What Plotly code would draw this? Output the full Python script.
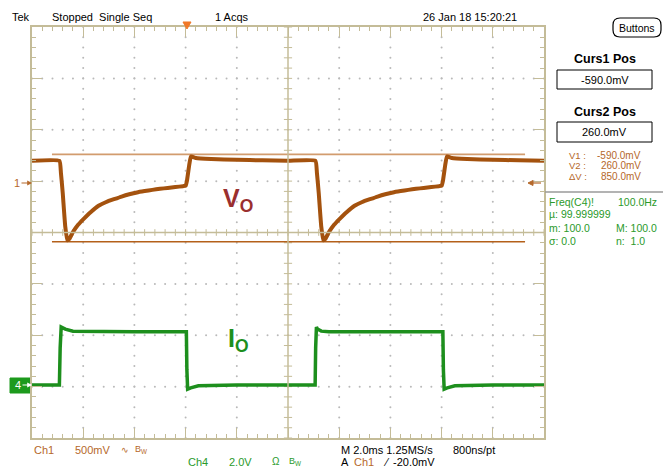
import numpy as np
import plotly.graph_objects as go

# ---------------- data ----------------
# Ch1 : output voltage Vo (mV), 500 mV/div, ground marker at +1 div
vo_time_ms = [-10.0, -8.93, -8.87, -8.80, -8.70, -8.62, -8.55, -8.40, -8.20, -8.00,
              -7.70, -7.40, -7.10, -6.80, -6.50, -6.20, -5.90, -5.60, -5.30, -5.00,
              -4.70, -4.40, -4.10, -4.00, -3.95, -3.85, -3.79, -3.60, -3.00, -2.00,
              -1.00, 0.00, 1.07,
              1.13, 1.20, 1.30, 1.38, 1.45, 1.60, 1.80, 2.00,
              2.30, 2.60, 2.90, 3.20, 3.50, 3.80, 4.10, 4.40, 4.70, 5.00,
              5.30, 5.60, 5.90, 6.00, 6.05, 6.15, 6.21, 6.40, 7.00, 8.00,
              9.00, 10.0]
vo_mV = [198, 198, 80, -115, -445, -575, -565, -495, -425, -372,
         -300, -240, -203, -176, -150, -128, -110, -97, -85, -75,
         -66, -58, -49, -46, 0, 170, 240, 225, 215, 208,
         202, 198, 198,
         80, -115, -445, -575, -565, -495, -425, -372,
         -300, -240, -203, -176, -150, -128, -110, -97, -85, -75,
         -66, -58, -49, -46, 0, 170, 240, 225, 215, 208,
         202, 198]

# Ch4 : output current Io (V of the probe), 2.0 V/div, ground marker at -3 div
io_time_ms = [-10.0, -8.93, -8.90, -8.86, -8.70, -8.40, -6.00, -3.97, -3.95, -3.92,
              -3.80, -3.50, -2.00, 1.06,
              1.08, 1.11, 1.15, 1.30, 1.60, 4.00, 6.05, 6.07, 6.10,
              6.22, 6.52, 8.00, 10.0]
io_V = [0.06, 0.06, 1.50, 2.32, 2.24, 2.16, 2.14, 2.14, 0.65, -0.10,
        -0.05, 0.03, 0.06, 0.06,
        1.50, 2.32, 2.24, 2.16, 2.14, 2.14, 2.14, 0.65, -0.10,
        -0.05, 0.03, 0.06, 0.06]

ch1_mV_per_div = 500.0
ch1_ground_div = 1.0
ch4_V_per_div = 2.0
ch4_ground_div = -3.0

cursor_mV = [-590.0, 260.0]          # Curs1, Curs2
cursor_span_ms = [-9.22, 9.26]

time_range_ms = [-10, 10]            # 2 ms/div, 10 div
div_range = [-4, 4]                  # 8 vertical divisions

# ---------------- styling ----------------
BROWN = "#a4520e"
BROWN_TXT = "#b5682a"
CUR2 = "#d29c6e"
CUR1 = "#b4601a"
GREEN = "#1d8f1d"
GREEN_TXT = "#2a9a2a"
FRAME = "#c4bc98"
DOT = "#b9b9b9"
FONT = "Liberation Sans Narrow, Arial Narrow, Liberation Sans, Arial, sans-serif"
FONT_B = "Liberation Sans, Arial, sans-serif"

W, H = 671, 474
L, R, T, B = 32, 544, 27, 438


def fx(p):
    return (p - L) / (R - L)


def fy(p):
    return (B - p) / (B - T)


fig = go.Figure()

# graticule dots (every 0.2 div on each division line)
gx, gy = [], []
for xv in np.arange(-8, 9, 2):
    if xv == 0:
        continue
    for yv in np.arange(-4, 4.001, 0.2):
        gx.append(xv)
        gy.append(yv)
for yv in range(-3, 4):
    if yv == 0:
        continue
    for xv in np.arange(-10, 10.001, 0.4):
        gx.append(xv)
        gy.append(yv)
fig.add_trace(go.Scatter(x=gx, y=gy, mode="markers",
                         marker=dict(size=2, color=DOT), hoverinfo="skip",
                         showlegend=False))

# centre crosshair with ticks
cx, cy = [], []
for xv in np.arange(-10, 10.001, 0.4):
    cx += [xv, xv, None]
    cy += [-0.065, 0.065, None]
for yv in np.arange(-4, 4.001, 0.2):
    cx += [-0.16, 0.16, None]
    cy += [yv, yv, None]
fig.add_trace(go.Scatter(x=cx, y=cy, mode="lines",
                         line=dict(color=FRAME, width=1), hoverinfo="skip",
                         showlegend=False))
fig.add_shape(type="line", x0=0, x1=0, y0=-4, y1=4, xref="x", yref="y",
              line=dict(color=FRAME, width=1.5))
fig.add_shape(type="line", x0=-10, x1=10, y0=0, y1=0, xref="x", yref="y",
              line=dict(color=FRAME, width=1.5))

# cursors
for mv, col in zip(cursor_mV, [CUR1, CUR2]):
    yv = mv / ch1_mV_per_div + ch1_ground_div
    fig.add_trace(go.Scatter(x=cursor_span_ms, y=[yv, yv], mode="lines",
                             line=dict(color=col, width=1.6),
                             hoverinfo="skip", showlegend=False))

# waveforms
fig.add_trace(go.Scatter(
    x=vo_time_ms, y=[v / ch1_mV_per_div + ch1_ground_div for v in vo_mV],
    mode="lines", line=dict(color=BROWN, width=4, shape="spline", smoothing=0.4),
    showlegend=False))
fig.add_trace(go.Scatter(
    x=io_time_ms, y=[v / ch4_V_per_div + ch4_ground_div for v in io_V],
    mode="lines", line=dict(color=GREEN, width=3.5), showlegend=False))

axis_common = dict(showgrid=False, zeroline=False, showline=True,
                   linecolor=FRAME, linewidth=2, mirror="allticks",
                   ticks="inside", ticklen=10, tickcolor=FRAME, tickwidth=1,
                   showticklabels=False, fixedrange=True)
fig.update_xaxes(range=time_range_ms, dtick=2, tick0=0,
                 minor=dict(ticks="inside", ticklen=4, dtick=0.4, tick0=0,
                            tickcolor=FRAME, tickwidth=1),
                 **axis_common)
fig.update_yaxes(range=div_range, dtick=1, tick0=0,
                 minor=dict(ticks="inside", ticklen=4, dtick=0.2, tick0=0,
                            tickcolor=FRAME, tickwidth=1),
                 **axis_common)

anns = []


def txt(text, px, py, size=11, color="black", anchor="left", font=FONT):
    anns.append(dict(text=text, x=fx(px), y=fy(py), xref="paper", yref="paper",
                     xanchor=anchor, yanchor="middle", showarrow=False,
                     font=dict(size=size, color=color, family=font)))


# top bar
txt("Tek", 10, 17)
txt("Stopped\u00a0 Single Seq", 50, 17)
txt("1 Acqs", 213, 17)
txt("26 Jan 18 15:20:21", 421, 17)
txt("Buttons", 637, 28, size=10.5, anchor="center")

# side panel
txt("<b>Curs1 Pos</b>", 605, 59, size=12.5, anchor="center", font=FONT_B)
txt("-590.0mV", 604.5, 80, anchor="center")
txt("<b>Curs2 Pos</b>", 605, 112, size=12.5, anchor="center", font=FONT_B)
txt("260.0mV", 604.5, 132, anchor="center")
for lab, val, yy in [("V1 :", "-590.0mV", 155), ("V2 :", "260.0mV", 165.5),
                     ("\u0394V :", "850.0mV", 176)]:
    txt(lab, 567, yy, size=9.5, color=BROWN_TXT)
    txt(val, 643, yy, size=10, color=BROWN_TXT, anchor="right")
txt("Freq(C4)!", 547, 202, size=10.5, color=GREEN_TXT)
txt("100.0Hz", 616, 202, size=10.5, color=GREEN_TXT)
txt("\u00b5: 99.999999", 547, 214, size=10.5, color=GREEN_TXT)
txt("m: 100.0", 547, 228, size=10.5, color=GREEN_TXT)
txt("M: 100.0", 614, 228, size=10.5, color=GREEN_TXT)
txt("\u03c3: 0.0", 547, 241, size=10.5, color=GREEN_TXT)
txt("n:\u00a0 1.0", 614, 241, size=10.5, color=GREEN_TXT)

# bottom status
txt("Ch1", 32, 450, color=BROWN_TXT)
txt("500mV", 73, 450, color=BROWN_TXT)
txt("\u223f", 119, 450, size=9, color=BROWN_TXT)
txt("B<sub>W</sub>", 133, 449, size=9, color=BROWN_TXT)
txt("Ch4", 186, 462, color=GREEN_TXT)
txt("2.0V", 227, 462, color=GREEN_TXT)
txt("\u03a9", 270, 462, size=10, color=GREEN_TXT)
txt("B<sub>W</sub>", 287, 461, size=9, color=GREEN_TXT)
txt("M 2.0ms 1.25MS/s", 339, 450)
txt("800ns/pt", 451, 450)
txt("A", 339, 462)
txt("Ch1", 352, 462, color=BROWN_TXT)
txt("\u2044", 381, 462)
txt("-20.0mV", 391, 462)

# waveform labels
txt("<b>V<sub>O</sub></b>", 221, 200, size=25, color="#9a2f2f")
txt("<b>I<sub>O</sub></b>", 226, 340, size=25, color=GREEN)

# channel markers
anns.append(dict(text="1", x=fx(L), y=fy(183), xref="paper", yref="paper",
                 ax=-15, ay=0, showarrow=True, arrowhead=2, arrowsize=0.8,
                 arrowwidth=1.2, arrowcolor=BROWN_TXT, standoff=0,
                 font=dict(size=11, color=BROWN_TXT, family=FONT)))
anns.append(dict(text="4", x=fx(L), y=fy(385), xref="paper", yref="paper",
                 ax=-14, ay=0, showarrow=True, arrowhead=2, arrowsize=0.8,
                 arrowwidth=1.2, arrowcolor="white", standoff=0,
                 font=dict(size=11, color="white", family=FONT)))
fig.update_layout(annotations=anns)

shapes = []


def pline(x0, y0, x1, y1, color="black", width=1.0):
    shapes.append(dict(type="line", xref="paper", yref="paper",
                       x0=fx(x0), y0=fy(y0), x1=fx(x1), y1=fy(y1),
                       line=dict(color=color, width=width)))


def prect(x0, y0, x1, y1, line="black", fill="rgba(0,0,0,0)", width=1.0):
    shapes.append(dict(type="rect", xref="paper", yref="paper",
                       x0=fx(x0), y0=fy(y0), x1=fx(x1), y1=fy(y1),
                       line=dict(color=line, width=width), fillcolor=fill,
                       layer="below"))


def ppath(points, fill, line_col=None):
    d = "M " + " L ".join(f"{fx(a):.5f},{fy(b):.5f}" for a, b in points) + " Z"
    shapes.append(dict(type="path", xref="paper", yref="paper", path=d,
                       fillcolor=fill, line=dict(color=line_col or fill, width=1)))


pline(0, 7, W, 7, width=1.5)
pline(545.5, 34, 545.5, H, width=1.5)
pline(545, 192, 663, 192, color="#9a9a9a", width=1.5)
prect(557, 70, 652, 89)
prect(557, 122, 652, 142)
prect(10, 378, 31, 393, line="#1d9a1d", fill="#1d9a1d")
# rounded "Buttons" box
bx0, by0, bx1, by1, r = 613, 18, 661, 37, 7
rx, ry = r / (R - L), r / (B - T)
p = (f"M {fx(bx0)+rx},{fy(by0)} L {fx(bx1)-rx},{fy(by0)} "
     f"Q {fx(bx1)},{fy(by0)} {fx(bx1)},{fy(by0)-ry} "
     f"L {fx(bx1)},{fy(by1)+ry} Q {fx(bx1)},{fy(by1)} {fx(bx1)-rx},{fy(by1)} "
     f"L {fx(bx0)+rx},{fy(by1)} Q {fx(bx0)},{fy(by1)} {fx(bx0)},{fy(by1)+ry} "
     f"L {fx(bx0)},{fy(by0)-ry} Q {fx(bx0)},{fy(by0)} {fx(bx0)+rx},{fy(by0)} Z")
shapes.append(dict(type="path", xref="paper", yref="paper", path=p,
                   line=dict(color="black", width=1.2)))
# trigger position marker
ppath([(183, 22), (191, 22), (187, 29)], "#f07828")
# right-side ch1 reference arrow
pline(530, 183, 541, 183, color=BROWN_TXT, width=1.2)
ppath([(528, 183), (533, 180.5), (533, 185.5)], BROWN_TXT)
fig.update_layout(shapes=shapes)

fig.update_layout(width=W, height=H, margin=dict(l=L, r=W - R, t=T, b=H - B),
                  paper_bgcolor="white", plot_bgcolor="white",
                  showlegend=False)

fig.write_html("out.html", config={"displayModeBar": False},
               post_script="document.body.style.margin='0';"
                           "document.body.style.padding='0';")
